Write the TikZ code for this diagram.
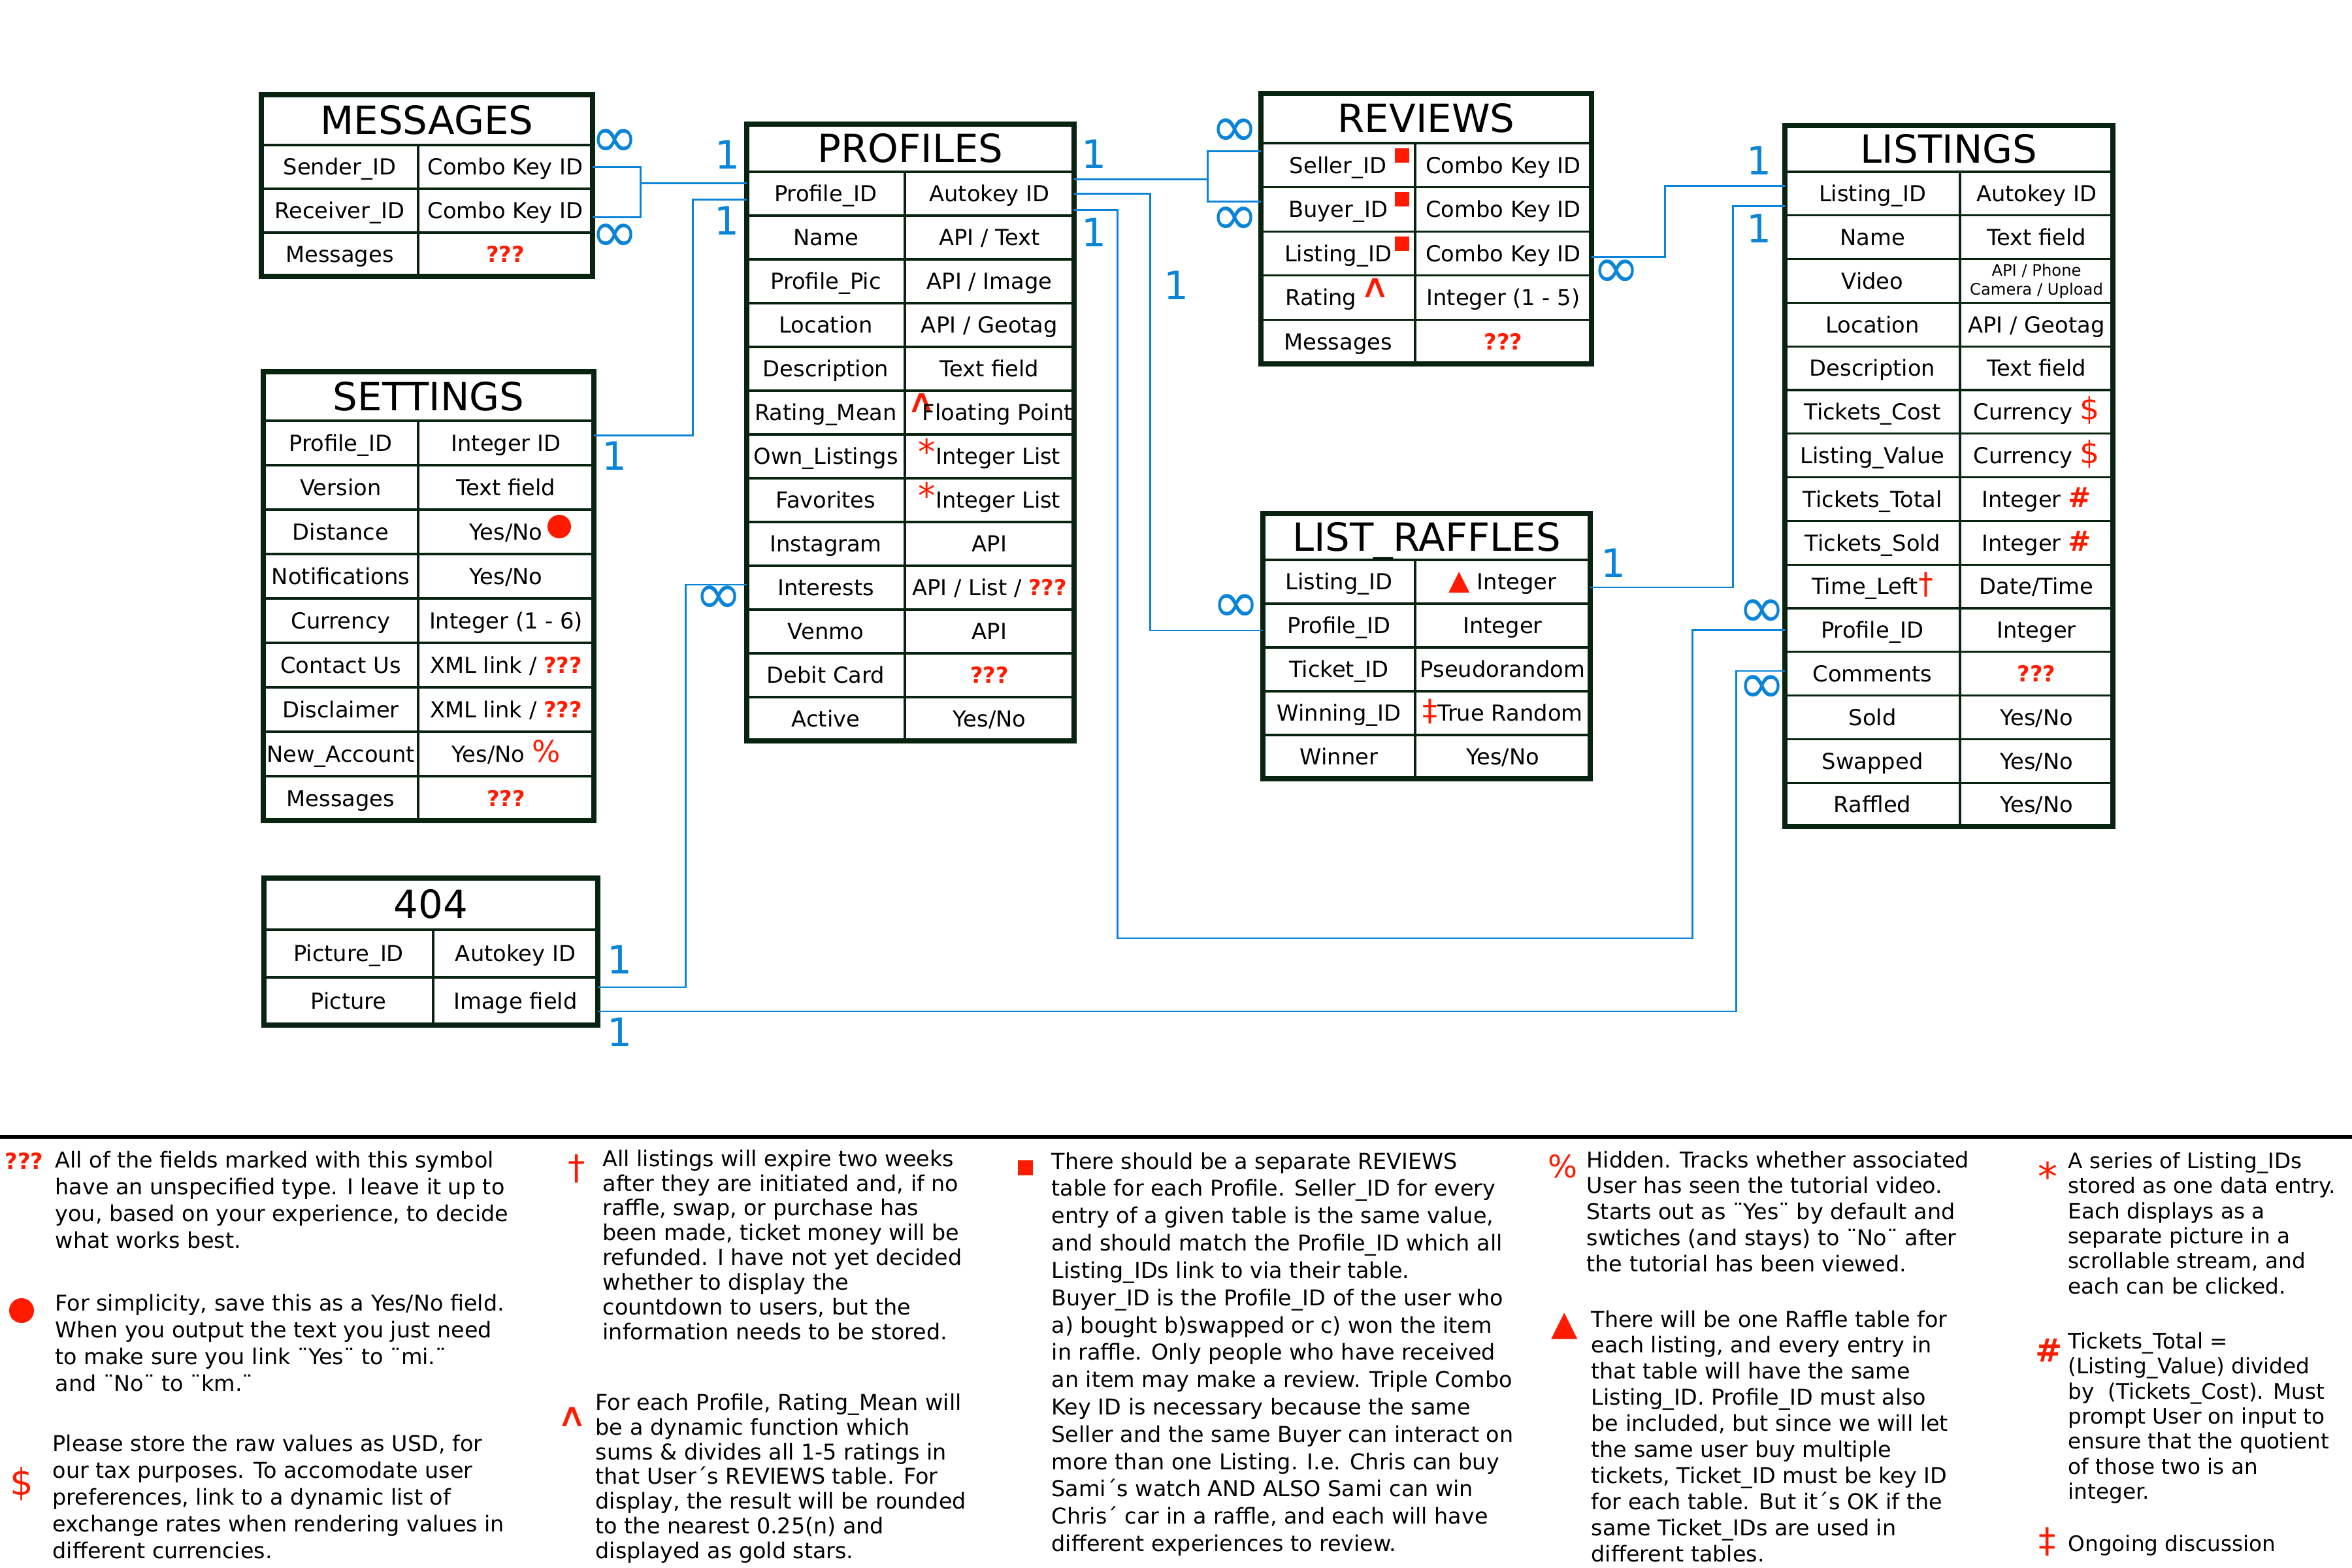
\documentclass[tikz,border=0pt]{standalone}
\usepackage{fontspec}
\setmainfont{DejaVu Sans}
\usepackage{xcolor}
\usepackage{graphicx}
\definecolor{framegreen}{RGB}{8,36,16}
\definecolor{linkblue}{RGB}{10,132,216}
\definecolor{markred}{RGB}{255,26,0}
\newcommand{\qqq}{\textcolor{markred}{\textbf{???}}}
\newcommand{\mkcaret}{\textcolor{markred}{\raisebox{3.4pt}{\scalebox{1.4}[1.1]{\fontsize{13}{13}\selectfont ∧}}}}
\newcommand{\mkstar}{\textcolor{markred}{\fontsize{15}{15}\selectfont *}}
\newcommand{\mkpct}{\textcolor{markred}{\fontsize{13}{13}\selectfont\%}}
\newcommand{\mkdollar}{\textcolor{markred}{\fontsize{13.5}{13.5}\selectfont\$}}
\newcommand{\mkhash}{\textcolor{markred}{\fontsize{12}{12}\selectfont\textbf{\#}}}
\newcommand{\mkdag}{\textcolor{markred}{\fontsize{13}{13}\selectfont †}}
\newcommand{\mkddag}{\textcolor{markred}{\fontsize{13}{13}\selectfont ‡}}
\newcommand{\mktri}{\textcolor{markred}{\fontsize{12}{12}\selectfont ▲}}
\tikzset{
  tabtitle/.style={draw=framegreen, line width=1.4pt, inner sep=0pt, outer sep=0pt, anchor=north west, text height=12.3pt, text depth=0pt, font=\fontsize{16.9}{18}\selectfont},
  cellbox/.style={draw=framegreen, line width=0.9pt, inner sep=0pt, outer sep=0pt, font=\fontsize{9.6}{11}\selectfont},
  cell/.style={cellbox, text height=7pt, text depth=0pt},
  tabframe/.style={draw=framegreen, line width=2.2pt},
  link/.style={draw=linkblue, line width=0.85pt},
  card/.style={text=linkblue, inner sep=0pt, font=\fontsize{17}{17}\selectfont},
  cardinf/.style={card, font=\fontsize{25}{25}\selectfont},
  keymark/.style={text=markred, inner sep=0pt},
  note/.style={anchor=north west, align=left, inner sep=0pt, font=\fontsize{9.5}{11.7}\selectfont},
  msgL/.style={cell, minimum width=2.40cm, minimum height=0.67cm},
  msgR/.style={cell, minimum width=2.67cm, minimum height=0.67cm},
  setL/.style={cell, minimum width=2.37cm, minimum height=0.68cm},
  setR/.style={cell, minimum width=2.69cm, minimum height=0.68cm},
  picL/.style={cell, minimum width=2.59cm, minimum height=0.73cm},
  picR/.style={cell, minimum width=2.52cm, minimum height=0.73cm},
  profL/.style={cell, minimum width=2.42cm, minimum height=0.67cm},
  profR/.style={cell, minimum width=2.59cm, minimum height=0.67cm},
  revL/.style={cell, minimum width=2.36cm, minimum height=0.676cm},
  revR/.style={cell, minimum width=2.70cm, minimum height=0.676cm},
  rafL/.style={cell, minimum width=2.33cm, minimum height=0.67cm},
  rafR/.style={cell, minimum width=2.68cm, minimum height=0.67cm},
  lstL/.style={cell, minimum width=2.68cm, minimum height=0.668cm},
  lstR/.style={cell, minimum width=2.34cm, minimum height=0.668cm}
}
\begin{document}
\begin{tikzpicture}
\useasboundingbox (0,0) rectangle (36,-24);

\node[tabtitle, minimum width=5.07cm, minimum height=0.77cm] (msg) at (4.00,-1.45) {MESSAGES};
\node[msgL] (msg-1-l) at (5.20,-2.555) {Sender\_ID}; \node[msgR] (msg-1-r) at (7.735,-2.555) {Combo Key ID};
\node[msgL] (msg-2-l) at (5.20,-3.225) {Receiver\_ID}; \node[msgR] (msg-2-r) at (7.735,-3.225) {Combo Key ID};
\node[msgL] (msg-3-l) at (5.20,-3.895) {Messages}; \node[msgR] (msg-3-r) at (7.735,-3.895) {\qqq};
\draw[tabframe] (msg.north west) rectangle (msg-3-r.south east);

\node[tabtitle, minimum width=5.06cm, minimum height=0.75cm] (set) at (4.03,-5.69) {SETTINGS};
\node[setL] (set-1-l) at (5.215,-6.78) {Profile\_ID}; \node[setR] (set-1-r) at (7.745,-6.78) {Integer ID};
\node[setL] (set-2-l) at (5.215,-7.46) {Version}; \node[setR] (set-2-r) at (7.745,-7.46) {Text field};
\node[setL] (set-3-l) at (5.215,-8.14) {Distance}; \node[setR] (set-3-r) at (7.745,-8.14) {Yes/No};
\node[setL] (set-4-l) at (5.215,-8.82) {Notifications}; \node[setR] (set-4-r) at (7.745,-8.82) {Yes/No};
\node[setL] (set-5-l) at (5.215,-9.50) {Currency}; \node[setR] (set-5-r) at (7.745,-9.50) {Integer (1 - 6)};
\node[setL] (set-6-l) at (5.215,-10.18) {Contact Us}; \node[setR] (set-6-r) at (7.745,-10.18) {XML link / \qqq};
\node[setL] (set-7-l) at (5.215,-10.86) {Disclaimer}; \node[setR] (set-7-r) at (7.745,-10.86) {XML link / \qqq};
\node[setL] (set-8-l) at (5.215,-11.54) {New\_Account}; \node[setR] (set-8-r) at (7.745,-11.54) {Yes/No \mkpct};
\node[setL] (set-9-l) at (5.215,-12.22) {Messages}; \node[setR] (set-9-r) at (7.745,-12.22) {\qqq};
\node[circle, fill=markred, inner sep=0pt, minimum size=0.36cm] (set-dot) at (8.56,-8.06) {};
\draw[tabframe] (set.north west) rectangle (set-9-r.south east);

\node[tabtitle, minimum width=5.11cm, minimum height=0.79cm] (pic) at (4.04,-13.44) {404};
\node[picL] (pic-1-l) at (5.335,-14.595) {Picture\_ID}; \node[picR] (pic-1-r) at (7.89,-14.595) {Autokey ID};
\node[picL] (pic-2-l) at (5.335,-15.325) {Picture}; \node[picR] (pic-2-r) at (7.89,-15.325) {Image field};
\draw[tabframe] (pic.north west) rectangle (pic-2-r.south east);

\node[tabtitle, minimum width=5.01cm, minimum height=0.73cm] (prof) at (11.43,-1.90) {PROFILES};
\node[profL] (prof-1-l) at (12.64,-2.965) {Profile\_ID}; \node[profR] (prof-1-r) at (15.145,-2.965) {Autokey ID};
\node[profL] (prof-2-l) at (12.64,-3.635) {Name}; \node[profR] (prof-2-r) at (15.145,-3.635) {API / Text};
\node[profL] (prof-3-l) at (12.64,-4.305) {Profile\_Pic}; \node[profR] (prof-3-r) at (15.145,-4.305) {API / Image};
\node[profL] (prof-4-l) at (12.64,-4.975) {Location}; \node[profR] (prof-4-r) at (15.145,-4.975) {API / Geotag};
\node[profL] (prof-5-l) at (12.64,-5.645) {Description}; \node[profR] (prof-5-r) at (15.145,-5.645) {Text field};
\node[profL] (prof-6-l) at (12.64,-6.315) {Rating\_Mean}; \node[profR] (prof-6-r) at (15.145,-6.315) {\makebox[0.72em][l]{\mkcaret}Floating Point};
\node[profL] (prof-7-l) at (12.64,-6.985) {Own\_Listings}; \node[profR] (prof-7-r) at (15.145,-6.985) {\mkstar Integer List};
\node[profL] (prof-8-l) at (12.64,-7.655) {Favorites}; \node[profR] (prof-8-r) at (15.145,-7.655) {\mkstar Integer List};
\node[profL] (prof-9-l) at (12.64,-8.325) {Instagram}; \node[profR] (prof-9-r) at (15.145,-8.325) {API};
\node[profL] (prof-10-l) at (12.64,-8.995) {Interests}; \node[profR] (prof-10-r) at (15.145,-8.995) {API / List / \qqq};
\node[profL] (prof-11-l) at (12.64,-9.665) {Venmo}; \node[profR] (prof-11-r) at (15.145,-9.665) {API};
\node[profL] (prof-12-l) at (12.64,-10.335) {Debit Card}; \node[profR] (prof-12-r) at (15.145,-10.335) {\qqq};
\node[profL] (prof-13-l) at (12.64,-11.005) {Active}; \node[profR] (prof-13-r) at (15.145,-11.005) {Yes/No};
\draw[tabframe] (prof.north west) rectangle (prof-13-r.south east);

\node[tabtitle, minimum width=5.06cm, minimum height=0.76cm] (rev) at (19.30,-1.43) {REVIEWS};
\node[revL] (rev-1-l) at (20.48,-2.528) {Seller\_ID}; \node[revR] (rev-1-r) at (23.01,-2.528) {Combo Key ID};
\node[revL] (rev-2-l) at (20.48,-3.204) {Buyer\_ID}; \node[revR] (rev-2-r) at (23.01,-3.204) {Combo Key ID};
\node[revL] (rev-3-l) at (20.48,-3.880) {Listing\_ID}; \node[revR] (rev-3-r) at (23.01,-3.880) {Combo Key ID};
\node[revL] (rev-4-l) at (20.48,-4.556) {Rating\,\mkcaret}; \node[revR] (rev-4-r) at (23.01,-4.556) {Integer (1 - 5)};
\node[revL] (rev-5-l) at (20.48,-5.232) {Messages}; \node[revR] (rev-5-r) at (23.01,-5.232) {\qqq};
\node[fill=markred, inner sep=0pt, minimum size=0.22cm, anchor=north east] (rev-1-sq) at ([xshift=-0.08cm,yshift=-0.07cm]rev-1-l.north east) {};
\node[fill=markred, inner sep=0pt, minimum size=0.22cm, anchor=north east] (rev-2-sq) at ([xshift=-0.08cm,yshift=-0.07cm]rev-2-l.north east) {};
\node[fill=markred, inner sep=0pt, minimum size=0.22cm, anchor=north east] (rev-3-sq) at ([xshift=-0.08cm,yshift=-0.07cm]rev-3-l.north east) {};
\draw[tabframe] (rev.north west) rectangle (rev-5-r.south east);

\node[tabtitle, minimum width=5.01cm, minimum height=0.71cm] (raf) at (19.33,-7.86) {LIST\_RAFFLES};
\node[rafL] (raf-1-l) at (20.495,-8.905) {Listing\_ID}; \node[rafR] (raf-1-r) at (23.00,-8.905) {\mktri\ Integer};
\node[rafL] (raf-2-l) at (20.495,-9.575) {Profile\_ID}; \node[rafR] (raf-2-r) at (23.00,-9.575) {Integer};
\node[rafL] (raf-3-l) at (20.495,-10.245) {Ticket\_ID}; \node[rafR] (raf-3-r) at (23.00,-10.245) {Pseudorandom};
\node[rafL] (raf-4-l) at (20.495,-10.915) {Winning\_ID}; \node[rafR] (raf-4-r) at (23.00,-10.915) {\mkddag True Random};
\node[rafL] (raf-5-l) at (20.495,-11.585) {Winner}; \node[rafR] (raf-5-r) at (23.00,-11.585) {Yes/No};
\draw[tabframe] (raf.north west) rectangle (raf-5-r.south east);

\node[tabtitle, minimum width=5.02cm, minimum height=0.71cm] (lst) at (27.32,-1.92) {LISTINGS};
\node[lstL] (lst-1-l) at (28.66,-2.964) {Listing\_ID}; \node[lstR] (lst-1-r) at (31.17,-2.964) {Autokey ID};
\node[lstL] (lst-2-l) at (28.66,-3.632) {Name}; \node[lstR] (lst-2-r) at (31.17,-3.632) {Text field};
\node[lstL] (lst-3-l) at (28.66,-4.300) {Video}; \node[cellbox, minimum width=2.34cm, minimum height=0.668cm, align=center, font=\fontsize{6.9}{8.2}\selectfont] (lst-3-r) at (31.17,-4.300) {API / Phone\\Camera / Upload};
\node[lstL] (lst-4-l) at (28.66,-4.968) {Location}; \node[lstR] (lst-4-r) at (31.17,-4.968) {API / Geotag};
\node[lstL] (lst-5-l) at (28.66,-5.636) {Description}; \node[lstR] (lst-5-r) at (31.17,-5.636) {Text field};
\node[lstL] (lst-6-l) at (28.66,-6.304) {Tickets\_Cost}; \node[lstR] (lst-6-r) at (31.17,-6.304) {Currency \mkdollar};
\node[lstL] (lst-7-l) at (28.66,-6.972) {Listing\_Value}; \node[lstR] (lst-7-r) at (31.17,-6.972) {Currency \mkdollar};
\node[lstL] (lst-8-l) at (28.66,-7.640) {Tickets\_Total}; \node[lstR] (lst-8-r) at (31.17,-7.640) {Integer \mkhash};
\node[lstL] (lst-9-l) at (28.66,-8.308) {Tickets\_Sold}; \node[lstR] (lst-9-r) at (31.17,-8.308) {Integer \mkhash};
\node[lstL] (lst-10-l) at (28.66,-8.976) {Time\_Left\mkdag}; \node[lstR] (lst-10-r) at (31.17,-8.976) {Date/Time};
\node[lstL] (lst-11-l) at (28.66,-9.644) {Profile\_ID}; \node[lstR] (lst-11-r) at (31.17,-9.644) {Integer};
\node[lstL] (lst-12-l) at (28.66,-10.312) {Comments}; \node[lstR] (lst-12-r) at (31.17,-10.312) {\qqq};
\node[lstL] (lst-13-l) at (28.66,-10.980) {Sold}; \node[lstR] (lst-13-r) at (31.17,-10.980) {Yes/No};
\node[lstL] (lst-14-l) at (28.66,-11.648) {Swapped}; \node[lstR] (lst-14-r) at (31.17,-11.648) {Yes/No};
\node[lstL] (lst-15-l) at (28.66,-12.316) {Raffled}; \node[lstR] (lst-15-r) at (31.17,-12.316) {Yes/No};
\draw[tabframe] (lst.north west) rectangle (lst-15-r.south east);

\coordinate (msgjoin) at (9.80,-2.81);
\draw[link] (msg-1-r.east) -| (msgjoin) |- ([yshift=-0.1cm]msg-2-r.east);
\draw[link] (msgjoin) -- (msgjoin -| prof-1-l.west);
\coordinate (setjoin) at (10.60,-3.06);
\draw[link] ([yshift=0.11cm]set-1-r.east) -| (setjoin) -- (setjoin -| prof-1-l.west);
\coordinate (picjoin) at (10.49,-8.95);
\draw[link] ([yshift=0.215cm]pic-2-r.east) -| (picjoin) -- (picjoin -| prof-10-l.west);
\coordinate (picdrop) at (26.57,-10.27);
\draw[link] ([yshift=-0.155cm]pic-2-r.east) -| (picdrop) -- (picdrop -| lst-12-l.west);
\coordinate (revjoin) at (18.48,-2.75);
\draw[link] ([yshift=0.21cm]rev-1-l.west) -| (revjoin) |- ([yshift=0.114cm]rev-2-l.west);
\draw[link] (revjoin) -- (revjoin -| prof-1-r.east);
\coordinate (rafjoin) at (17.60,-9.65);
\draw[link] (prof-1-r.east) -| (rafjoin) -- (rafjoin -| raf-2-l.west);
\coordinate (lowleft) at (17.10,-14.36);
\coordinate (lowright) at (25.90,-14.36);
\draw[link] ([yshift=-0.255cm]prof-1-r.east) -| (lowleft) -- (lowright) |- (lst-11-l.west);
\coordinate (revlst) at (25.48,-2.85);
\draw[link] ([yshift=-0.06cm]rev-3-r.east) -| (revlst) -- (revlst -| lst-1-l.west);
\coordinate (raflst) at (26.52,-3.16);
\draw[link] ([yshift=-0.085cm]raf-1-r.east) -| (raflst) -- (raflst -| lst-1-l.west);

\node[cardinf] (msg-n1) at (9.41,-2.19) {∞};
\node[cardinf] (msg-n2) at (9.41,-3.64) {∞};
\node[card] (msg-one) at (11.13,-2.37) {1};
\node[card] (set-one) at (9.40,-6.98) {1};
\node[card] (set-one-b) at (11.12,-3.38) {1};
\node[cardinf] (pic-n) at (11.00,-9.18) {∞};
\node[card] (pic-one) at (9.48,-14.69) {1};
\node[card] (pic-one-b) at (9.48,-15.80) {1};
\node[cardinf] (pic-lst-n) at (26.97,-10.55) {∞};
\node[card] (rev-one) at (16.74,-2.36) {1};
\node[cardinf] (rev-n1) at (18.90,-2.03) {∞};
\node[cardinf] (rev-n2) at (18.90,-3.38) {∞};
\node[card] (raf-one) at (18.00,-4.37) {1};
\node[cardinf] (raf-n) at (18.92,-9.31) {∞};
\node[card] (lst-one) at (16.74,-3.56) {1};
\node[cardinf] (lst-n) at (26.97,-9.39) {∞};
\node[cardinf] (revlst-n) at (24.74,-4.19) {∞};
\node[card] (revlst-one) at (26.92,-2.46) {1};
\node[card] (raflst-one) at (24.69,-8.62) {1};
\node[card] (raflst-one-b) at (26.92,-3.50) {1};

\draw[line width=1.8pt] (0,-17.40) -- (36,-17.40);

\node[keymark, font=\bfseries\fontsize{9.6}{10}\selectfont] (key-qqq) at (0.37,-17.77) {???};
\node[note] (note-qqq) at (0.84,-17.61) {All of the fields marked with this symbol\\have an unspecified type. I leave it up to\\you, based on your experience, to decide\\what works best.};
\node[circle, fill=markred, inner sep=0pt, minimum size=0.38cm] (key-dot) at (0.33,-20.06) {};
\node[note] (note-dot) at (0.84,-19.80) {For simplicity, save this as a Yes/No field.\\When you output the text you just need\\to make sure you link ¨Yes¨ to ¨mi.¨\\and ¨No¨ to ¨km.¨};
\node[keymark, font=\fontsize{16}{16}\selectfont] (key-dollar) at (0.33,-22.71) {\$};
\node[note] (note-dollar) at (0.80,-21.95) {Please store the raw values as USD, for\\our tax purposes. To accomodate user\\preferences, link to a dynamic list of\\exchange rates when rendering values in\\different currencies.};
\node[keymark, font=\fontsize{15}{15}\selectfont] (key-dag) at (8.83,-17.89) {†};
\node[note, font=\fontsize{9.5}{10.8}\selectfont] (note-dag) at (9.22,-17.59) {All listings will expire two weeks\\after they are initiated and, if no\\raffle, swap, or purchase has\\been made, ticket money will be\\refunded. I have not yet decided\\whether to display the\\countdown to users, but the\\information needs to be stored.};
\node[keymark, font=\fontsize{13}{13}\selectfont] (key-caret) at (8.76,-21.69) {\scalebox{1.4}[1.1]{∧}};
\node[note, font=\fontsize{9.5}{10.8}\selectfont] (note-caret) at (9.11,-21.32) {For each Profile, Rating\_Mean will\\be a dynamic function which\\sums \& divides all 1-5 ratings in\\that User´s REVIEWS table. For\\display, the result will be rounded\\to the nearest 0.25(n) and\\displayed as gold stars.};
\node[fill=markred, inner sep=0pt, minimum size=0.23cm] (key-sq) at (15.695,-17.87) {};
\node[note, font=\fontsize{9.5}{11.9}\selectfont] (note-sq) at (16.09,-17.63) {There should be a separate REVIEWS\\table for each Profile. Seller\_ID for every\\entry of a given table is the same value,\\and should match the Profile\_ID which all\\Listing\_IDs link to via their table.\\Buyer\_ID is the Profile\_ID of the user who\\a) bought b)swapped or c) won the item\\in raffle. Only people who have received\\an item may make a review. Triple Combo\\Key ID is necessary because the same\\Seller and the same Buyer can interact on\\more than one Listing. I.e. Chris can buy\\Sami´s watch AND ALSO Sami can win\\Chris´ car in a raffle, and each will have\\different experiences to review.};
\node[keymark, font=\fontsize{13.5}{13.5}\selectfont] (key-pct) at (23.92,-17.85) {\%};
\node[note, font=\fontsize{9.5}{11.35}\selectfont] (note-pct) at (24.28,-17.61) {Hidden. Tracks whether associated\\User has seen the tutorial video.\\Starts out as ¨Yes¨ by default and\\swtiches (and stays) to ¨No¨ after\\the tutorial has been viewed.};
\node[keymark, font=\fontsize{15}{15}\selectfont] (key-tri) at (23.95,-20.30) {▲};
\node[note, font=\fontsize{9.5}{11.35}\selectfont] (note-tri) at (24.35,-20.05) {There will be one Raffle table for\\each listing, and every entry in\\that table will have the same\\Listing\_ID. Profile\_ID must also\\be included, but since we will let\\the same user buy multiple\\tickets, Ticket\_ID must be key ID\\for each table. But it´s OK if the\\same Ticket\_IDs are used in\\different tables.};
\node[keymark, font=\fontsize{17}{17}\selectfont] (key-star) at (31.34,-18.00) {*};
\node[note, font=\fontsize{9.3}{10.9}\selectfont] (note-star) at (31.65,-17.63) {A series of Listing\_IDs\\stored as one data entry.\\Each displays as a\\separate picture in a\\scrollable stream, and\\each can be clicked.};
\node[keymark, font=\bfseries\fontsize{14}{14}\selectfont] (key-hash) at (31.36,-20.67) {\#};
\node[note, font=\fontsize{9.3}{10.9}\selectfont] (note-hash) at (31.65,-20.39) {Tickets\_Total =\\(Listing\_Value) divided\\by\ \ (Tickets\_Cost). Must\\prompt User on input to\\ensure that the quotient\\of those two is an\\integer.};
\node[keymark, font=\fontsize{15}{15}\selectfont] (key-ddag) at (31.34,-23.60) {‡};
\node[note, font=\fontsize{9.3}{10.9}\selectfont] (note-ddag) at (31.65,-23.49) {Ongoing discussion};
\end{tikzpicture}
\end{document}
